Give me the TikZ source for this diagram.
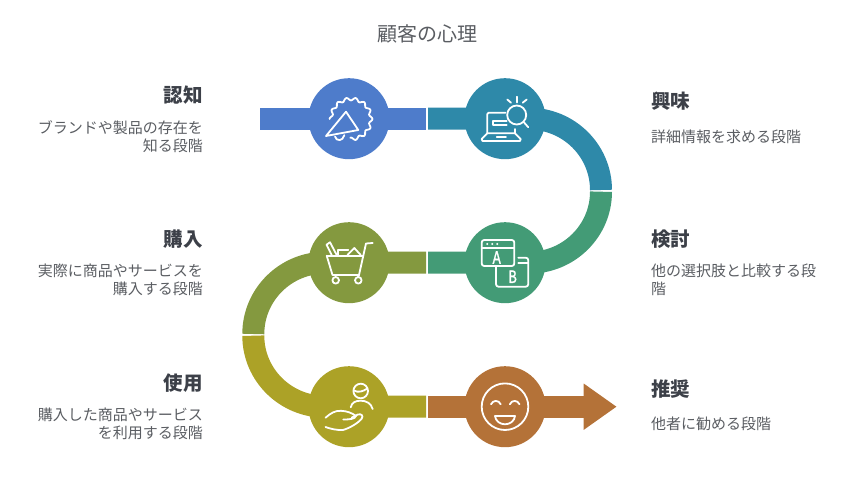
\documentclass[tikz,border=0pt]{standalone}
\usepackage{fontspec}
\setmainfont{Noto Sans CJK JP}
\newfontfamily\iconfont[FakeBold=1.2]{Liberation Mono}
\usetikzlibrary{arrows.meta}
\definecolor{cblue}{HTML}{4E7CCB}
\definecolor{cteal}{HTML}{2E89A9}
\definecolor{cgreen}{HTML}{439B76}
\definecolor{colive}{HTML}{84993F}
\definecolor{cmust}{HTML}{ACA227}
\definecolor{cbrown}{HTML}{B47238}
\definecolor{chead}{HTML}{3C4048}
\definecolor{cbody}{HTML}{5A5D62}
\tikzset{
  ribbon/.style={line width=22pt},
  disc/.style={circle,minimum size=81pt,inner sep=0pt,fill=#1},
  icon/.style={draw=white,line width=1.8pt,line cap=round,line join=round},
  ttl/.style={font=\fontsize{20}{24}\selectfont,text=cbody,inner sep=0pt},
  headl/.style={font=\fontsize{19.5}{22}\selectfont\bfseries,text=chead,inner sep=0pt,anchor=east},
  headr/.style={font=\fontsize{19.5}{22}\selectfont\bfseries,text=chead,inner sep=0pt,anchor=west},
  bodyl/.style={font=\fontsize{15}{18}\selectfont,text=cbody,inner sep=0pt,anchor=east,align=right},
  bodyr/.style={font=\fontsize{15}{18}\selectfont,text=cbody,inner sep=0pt,anchor=west,align=left},
  letter/.style={font=\iconfont\fontsize{19}{19}\selectfont,text=white,inner sep=0pt,xscale=0.72}
}
\begin{document}
\begin{tikzpicture}[x=1pt,y=-1pt]
\useasboundingbox (0,0) rectangle (854,481);
% anchor points
\coordinate (c1) at (349,118.7);
\coordinate (c2) at (505,118.7);
\coordinate (c3) at (505,262.7);
\coordinate (c4) at (349,262.7);
\coordinate (c5) at (349,406.7);
\coordinate (c6) at (505,406.7);
\coordinate (s1) at (260,118.7);
\coordinate (e1) at (426,118.7);
\coordinate (s2) at (428,118.7);
\coordinate (a2) at (529,118.7);
\coordinate (a3) at (601,191.7);
\coordinate (s3) at (428,262.7);
\coordinate (s4) at (426,262.7);
\coordinate (a4) at (325.3,262.7);
\coordinate (a5) at (253.3,335.7);
\coordinate (e5) at (426,406.7);
\coordinate (s6) at (428,406.7);
\coordinate (tip) at (616.7,406.7);
% ribbon
\draw[ribbon,cblue] (s1) -- (e1);
\draw[ribbon,cteal] (s2) -- (a2) arc[start angle=90,end angle=0,x radius=72pt,y radius=71.3pt];
\draw[ribbon,cgreen] (a3) arc[start angle=0,end angle=-90,x radius=72pt,y radius=71pt] -- (s3);
\draw[ribbon,colive] (s4) -- (a4) arc[start angle=90,end angle=180,x radius=72pt,y radius=71.3pt];
\draw[ribbon,cmust] (a5) arc[start angle=180,end angle=270,x radius=72pt,y radius=71pt] -- (e5);
\draw[ribbon,cbrown,-{Triangle[length=33pt,width=44pt]}] (s6) -- (tip);
% discs
\node[disc=cblue] (n1) at (c1) {};
\node[disc=cteal] (n2) at (c2) {};
\node[disc=cgreen] (n3) at (c3) {};
\node[disc=colive] (n4) at (c4) {};
\node[disc=cmust] (n5) at (c5) {};
\node[disc=cbrown] (n6) at (c6) {};
% icon 1: megaphone
\draw[icon] (346,111.7) -- (358.3,130) -- (326,136) -- cycle;
\draw[icon] (335,136.5) .. controls (336,141.5) and (343,141.5) .. (344.3,135.2);
\draw[icon] plot[domain=180:-92,samples=200,variable=\t,smooth] ({351+(20+1.4*cos(14*\t))*cos(\t)},{119-(20+1.4*cos(14*\t))*sin(\t)});
% icon 2: laptop and magnifier
\draw[icon] (516.7,115) circle[radius=9.5pt];
\draw[icon] (523.5,121.8) -- (528.3,127.3);
\draw[icon] (516.7,96.7) -- (516.7,102.5);
\draw[icon] (507.3,99.5) -- (511,102.7);
\draw[icon] (526.7,99.5) -- (522.7,102.7);
\draw[icon] (487.3,133.3) -- (487.3,114.2) -- (488.5,112.7) -- (505.5,112.7);
\draw[icon] (515,129) -- (515,133.3);
\draw[icon] (487.3,133.3) -- (515,133.3) -- (520.7,139) -- (520,141) -- (482.5,141) -- (481.7,139) -- cycle;
\draw[icon] (506.7,120.7) -- (492.7,120.7) -- (492.7,125) -- (506.7,125);
\draw[icon] (496.7,137.2) -- (506,137.2);
% icon 3: A/B windows
\draw[icon,rounded corners=2.5pt] (481.7,240) rectangle (514.3,266);
\draw[icon] (481.7,248.3) -- (514.3,248.3);
\fill[white] (487.3,244) circle[radius=1.1pt] (492.3,244) circle[radius=1.1pt] (497.3,244) circle[radius=1.1pt];
\node[letter] (la) at (496.7,257.5) {A};
\draw[icon,rounded corners=2.5pt] (496,266.7) -- (496,286.7) -- (528.3,286.7) -- (528.3,257.7) -- (518.3,257.7);
\draw[icon] (518.3,263.3) -- (528.3,263.3);
\node[letter] (lb) at (512.7,276.7) {B};
% icon 4: cart
\draw[icon] (326.7,255.7) -- (363.3,255.7);
\draw[icon] (326.7,255.7) -- (332.5,275) -- (359,275);
\draw[icon] (372.7,243) -- (366,243.5) -- (359,275) -- (358,277);
\draw[icon] (335.7,280.3) circle[radius=3.3pt] (358.3,280.3) circle[radius=3.3pt];
\draw[icon] (331.7,255) -- (326.5,244.7) -- (330,242.3) -- (336.7,255);
\draw[icon] (338.3,255) -- (338.3,249.7) -- (348.3,249.7);
\draw[icon] (347.5,255) -- (354.3,248) -- (360.7,255);
% icon 5: hand
\draw[icon] (360.7,391) circle[radius=7.3pt];
\draw[icon] (354,390.5) .. controls (358,393) and (363,391.5) .. (367.3,388.5);
\draw[icon] (350.7,407.3) .. controls (352,402) and (356,400.7) .. (360.7,400.7) .. controls (366,400.7) and (371,403) .. (372.7,409);
\draw[icon] (325.5,417.7) .. controls (331,413) and (335,410.5) .. (341,410.8) .. controls (347,411) and (352,413) .. (356,416) .. controls (355,419) and (350,419.5) .. (343.3,419.5);
\draw[icon] (325.5,427) .. controls (331,429) and (337,430.3) .. (343,430) .. controls (350,428) and (358,423) .. (361.5,419) .. controls (364,415.5) and (361,413.5) .. (358,414.5) .. controls (356,415) and (354,416.5) .. (351.7,417.7);
% icon 6: smile
\draw[icon] (505,406.7) circle[radius=23.3pt];
\draw[icon] (491,404.3) .. controls (493,399.8) and (498.7,399.8) .. (500.7,404.3);
\draw[icon] (509.8,404.3) .. controls (511.8,399.8) and (517.5,399.8) .. (519.5,404.3);
\draw[icon] (495,416) -- (515,416) .. controls (514.5,421) and (510,424.3) .. (505,424.3) .. controls (500,424.3) and (495.5,421) .. (495,416) -- cycle;
% texts
\node[ttl] (title) at (427,34) {顧客の心理};
\node[headl] (h1) at (203,95) {認知};
\node[bodyl] (b1) at (203,137) {ブランドや製品の存在を\\知る段階};
\node[headl] (h4) at (203,239) {購入};
\node[bodyl] (b4) at (203,280) {実際に商品やサービスを\\購入する段階};
\node[headl] (h5) at (203,383) {使用};
\node[bodyl] (b5) at (203,424) {購入した商品やサービス\\を利用する段階};
\node[headr] (h2) at (651,101) {興味};
\node[bodyr] (b2) at (651,137) {詳細情報を求める段階};
\node[headr] (h3) at (651,239) {検討};
\node[bodyr] (b3) at (651,280) {他の選択肢と比較する段\\階};
\node[headr] (h6) at (651,389) {推奨};
\node[bodyr] (b6) at (651,424) {他者に勧める段階};
\end{tikzpicture}
\end{document}
